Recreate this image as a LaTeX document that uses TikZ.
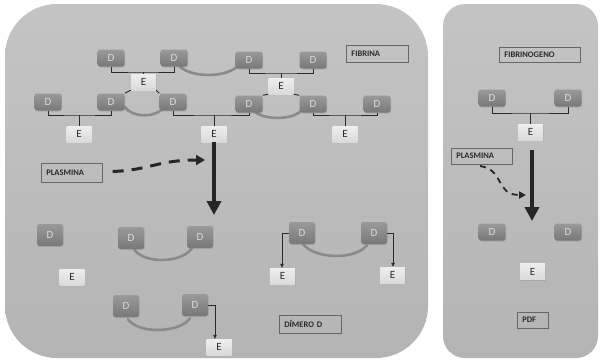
\documentclass[tikz,border=0pt]{standalone}
\usepackage{fontspec}
\setmainfont{Carlito}
\usetikzlibrary{arrows.meta,shadows,calc,backgrounds}
\definecolor{panelTop}{HTML}{C4C4C4}
\definecolor{panelBot}{HTML}{B4B4B4}
\definecolor{dTop}{HTML}{9A9A9A}
\definecolor{dBot}{HTML}{787878}
\definecolor{dText}{HTML}{DCDCDC}
\definecolor{eTop}{HTML}{EEEEEE}
\definecolor{eBot}{HTML}{DADADA}
\definecolor{lineDark}{HTML}{2A2A2A}
\definecolor{linkGray}{HTML}{8A8A8A}
\definecolor{boxLine}{HTML}{666666}
\tikzset{
  dnode/.style={rounded corners=2.5pt, minimum width=27pt, minimum height=17pt, inner sep=0pt,
    top color=dTop, bottom color=dBot, text=dText, font=\fontsize{11}{11}\selectfont,
    drop shadow={shadow xshift=0.7pt, shadow yshift=-1pt, opacity=0.3}},
  dbig/.style={dnode, minimum width=26pt, minimum height=22pt},
  enode/.style={minimum width=25pt, minimum height=16pt, inner sep=0pt,
    top color=eTop, bottom color=eBot, text=lineDark, font=\fontsize{11}{11}\selectfont,
    drop shadow={shadow xshift=0.7pt, shadow yshift=-1pt, opacity=0.3}},
  lbl/.style={draw=boxLine, line width=0.7pt, anchor=west, inner xsep=5pt, inner ysep=0pt,
    align=left, font=\bfseries\fontsize{8.5}{8.5}\selectfont, text=lineDark},
  brk/.style={draw=lineDark, line width=0.9pt},
  link/.style={draw=linkGray, line width=2.6pt, line cap=round},
  bigarrow/.style={draw=black!85, line width=3.6pt, -{Triangle[length=14pt,width=14pt]}},
  dasharrow/.style={draw=black!85, line width=3pt, dash pattern=on 11pt off 8pt,
    -{Triangle[length=9pt,width=10pt]}},
  thinarrow/.style={draw=lineDark, line width=0.6pt, -{Triangle[length=4pt,width=3.5pt]}},
}
\begin{document}
\begin{tikzpicture}[x=1pt,y=-1pt]
\useasboundingbox (0,0) rectangle (600,364);
\begin{scope}[on background layer]
  \fill[white] (0,0) rectangle (600,364);
  \shade[top color=panelTop, bottom color=panelBot, rounded corners=52pt] (5,4) rectangle (428,358);
  \shade[top color=panelTop, bottom color=panelBot, rounded corners=22pt] (443,4) rectangle (598,358);
\end{scope}

% ---------- FIBRINA network ----------
\node[dnode] (d1) at (111,58) {D};
\node[dnode] (d2) at (174,58) {D};
\node[dnode] (d3) at (249,60) {D};
\node[dnode] (d4) at (313,60) {D};
\node[enode] (e1) at (143.5,82) {E};
\node[enode] (e2) at (281,86) {E};
\node[dnode] (d5) at (48,102) {D};
\node[dnode] (d6) at (111,102) {D};
\node[dnode] (d7) at (173,102) {D};
\node[dnode] (d8) at (249,104) {D};
\node[dnode] (d9) at (313,104) {D};
\node[dnode] (d10) at (377,104) {D};
\node[enode] (e3) at (79,134) {E};
\node[enode] (e4) at (214,134) {E};
\node[enode] (e5) at (345,134) {E};

\coordinate (b1) at (143.5,72);
\coordinate (b2) at (281,73);
\coordinate (b3) at (79,115);
\coordinate (b4) at (214,115);
\coordinate (b5) at (345,115);
\draw[brk] (d1.south) |- (b1) -| (d2.south); \draw[brk] (b1) -- (e1.north);
\draw[brk] (d3.south) |- (b2) -| (d4.south); \draw[brk] (b2) -- (e2.north);
\draw[brk] (d5.south) |- (b3) -| (d6.south); \draw[brk] (b3) -- (e3.north);
\draw[brk] (d7.south) |- (b4) -| (d8.south); \draw[brk] (b4) -- (e4.north);
\draw[brk] (d9.south) |- (b5) -| (d10.south); \draw[brk] (b5) -- (e5.north);
\draw[brk] (e1.south west) -- (d6.north east);
\draw[brk] (e1.south east) -- (d7.north west);
\draw[brk] (e2.south west) -- (d8.north east);
\draw[brk] (e2.south east) -- (d9.north west);

\node[lbl, minimum width=62pt, minimum height=17pt, text width=52pt] (fib) at (346,53.5) {FIBRINA};

% ---------- plasmin action ----------
\node[lbl, minimum width=61pt, minimum height=19pt, text width=51pt] (pl1) at (41,172.5) {PLASMINA};
\coordinate (a1end) at (214,215);
\coordinate (p1end) at (205,160);
\draw[bigarrow] (e4.south) -- (a1end);
\draw[dasharrow] (pl1.east) ++(10,-1) .. controls (150,170) and (158,160) .. (p1end);

% ---------- products ----------
\node[dbig] (d11) at (50,235) {D};
\node[enode] (e6) at (72,277) {E};
\node[dbig] (d12) at (131,238) {D};
\node[dbig] (d13) at (200,237) {D};
\node[dbig] (d14) at (126,306) {D};
\node[dbig] (d15) at (195,305) {D};
\node[enode] (e7) at (219,347) {E};
\coordinate (c7) at (215,305);
\draw[thinarrow] (d15.east) -- (c7) -- (c7 |- e7.north);

\node[dbig] (d16) at (302,233) {D};
\node[dbig] (d17) at (374,233) {D};
\node[enode] (e8) at (282.5,276) {E};
\node[enode] (e9) at (392.5,275) {E};
\coordinate (c8) at (282,233);
\coordinate (c9) at (393,233);
\draw[thinarrow] (d16.west) -- (c8) -- (c8 |- e8.north);
\draw[thinarrow] (d17.east) -- (c9) -- (c9 |- e9.north);

\node[lbl, minimum width=62pt, minimum height=18pt, text width=52pt] (dim) at (279,324) {DÍMERO D};

% ---------- FIBRINOGENO ----------
\node[lbl, minimum width=81pt, minimum height=15pt, text width=71pt] (fgn) at (499,54.5) {FIBRINOGENO};
\node[dnode] (d18) at (492,98) {D};
\node[dnode] (d19) at (568,98) {D};
\node[enode] (e10) at (530.5,132) {E};
\coordinate (b6) at (530.5,113);
\draw[brk] (d18.south) |- (b6) -| (d19.south); \draw[brk] (b6) -- (e10.north);

\node[lbl, minimum width=61pt, minimum height=16pt, text width=51pt] (pl2) at (451,156) {PLASMINA};
\coordinate (a2start) at (532,150);
\coordinate (a2end) at (532,221);
\draw[bigarrow] (a2start) -- (a2end);
\coordinate (p2end) at (526,195);
\draw[dasharrow, line width=1.8pt, dash pattern=on 6pt off 5pt, -{Triangle[length=7pt,width=7pt]}]
  (480,166) .. controls (505,170) and (495,195) .. (p2end);

\node[dnode] (d20) at (492,232) {D};
\node[dnode] (d21) at (568,232) {D};
\node[enode] (e11) at (532.5,271.5) {E};
\node[lbl, minimum width=31pt, minimum height=16pt, text width=21pt] (pdf) at (517,320) {PDF};

% ---------- links (behind nodes) ----------
\begin{scope}[on background layer]
  \draw[link] ($(d2.south)+(6,0)$) .. controls +(12,11) and +(-12,11) .. ($(d3.south)+(-12,-2)$);
  \draw[link] ($(d6.east)+(0,5)$) .. controls +(8,11) and +(-8,11) .. ($(d7.west)+(5,5)$);
  \draw[link] ($(d8.south)+(4,-3)$) .. controls +(8,11) and +(-8,11) .. ($(d9.south)+(-11,-3)$);
  \draw[link] ($(d12.south)+(3,0)$) .. controls +(10,15) and +(-10,15) .. ($(d13.south)+(-8,0)$);
  \draw[link] ($(d14.south)+(2,2)$) .. controls +(10,15) and +(-10,15) .. ($(d15.south)+(-5,2)$);
  \draw[link] ($(d16.south)+(1,0)$) .. controls +(12,15) and +(-12,15) .. ($(d17.south)+(-7,1)$);
\end{scope}
\end{tikzpicture}
\end{document}
